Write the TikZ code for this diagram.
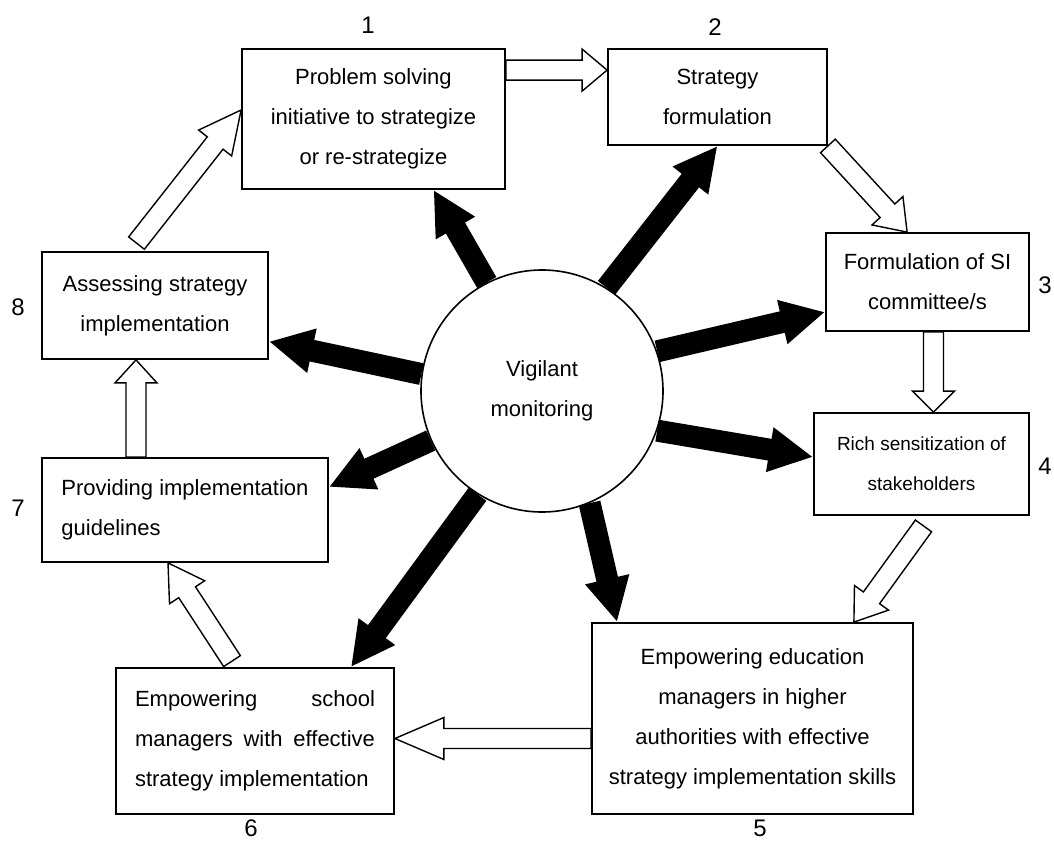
\documentclass[tikz,border=0pt]{standalone}
\usepackage{fontspec}
\setmainfont{Liberation Sans}
\usetikzlibrary{calc,arrows.meta}

\newcommand{\hollowarrow}[3]{%
	\coordinate (hb) at ($(#2)!#3!(#1)$);
	\draw[hollow] ($(#1)!5pt!90:(#2)$) -- ($(hb)!5pt!90:(#2)$)
		-- ($(hb)!10.5pt!90:(#2)$) -- (#2) -- ($(hb)!10.5pt!-90:(#2)$)
		-- ($(hb)!5pt!-90:(#2)$) -- ($(#1)!5pt!-90:(#2)$) -- cycle;
}

\begin{document}
\begin{tikzpicture}[x=0.5pt,y=-0.5pt,
	box/.style={draw, line width=0.9pt, inner sep=0pt, align=center,
		font=\fontsize{11}{20}\selectfont},
	num/.style={font=\fontsize{12}{14}\selectfont, inner sep=1pt},
	ray/.style={line width=11pt, -{Triangle[length=22pt,width=21pt]}},
	hollow/.style={line width=0.7pt, fill=white}]

		\useasboundingbox (0,0) rectangle (1054,841);

		\node[box,
			minimum width=131.5pt,
			minimum height=70pt
		] (b1) at (373.5,119) {Problem solving\\initiative to strategize\\or re-strategize};

		\node[box,
			minimum width=109.5pt,
			minimum height=48pt
		] (b2) at (717.5,97) {Strategy\\formulation};

		\node[box,
			minimum width=101.5pt,
			minimum height=49pt
		] (b3) at (927.5,282) {Formulation of SI\\committee/s};

		\node[box,
			minimum width=107.5pt,
			minimum height=51pt,
			font=\fontsize{9.5}{20}\selectfont
		] (b4) at (921.5,464) {Rich sensitization of\\stakeholders};

		\node[box,
			minimum width=160.5pt,
			minimum height=95.5pt
		] (b5) at (752.5,718.5) {Empowering education\\managers in higher\\authorities with effective\\strategy implementation skills};

		\node[box,
			minimum width=139pt,
			minimum height=73pt,
			align=left
		] (b6) at (255,741) {\makebox[120pt][s]{Empowering school}\\\makebox[120pt][s]{managers with effective}\\strategy implementation};

		\node[box,
			minimum width=143pt,
			minimum height=52pt,
			align=left
		] (b7) at (185,510) {Providing implementation\\guidelines};

		\node[box,
			minimum width=113pt,
			minimum height=53.5pt
		] (b8) at (155,305.5) {Assessing strategy\\implementation};

		\node[draw,
			circle,
			line width=0.8pt,
			minimum size=121pt,
			align=center,
			font=\fontsize{11}{20}\selectfont
		] (vm) at (542,391) {Vigilant\\monitoring};

		\node[num] (n1) at (368,25) {1};
		\node[num] (n2) at (715,27) {2};
		\node[num] (n3) at (1045,285) {3};
		\node[num] (n4) at (1045,466) {4};
		\node[num] (n5) at (760,828) {5};
		\node[num] (n6) at (251,828) {6};
		\node[num] (n7) at (18,508) {7};
		\node[num] (n8) at (18,307) {8};

		\draw[ray] (vm.117) -- ([xshift=30pt]b1.south);
		\draw[ray] (vm.58) -- (b2.south);
		\draw[ray] (vm.19) -- ([yshift=-15pt]b3.west);
		\draw[ray] (vm.-19) -- ([yshift=3.5pt]b4.west);
		\draw[ray] (vm.-67) -- ([xshift=13pt]b5.north west);
		\draw[ray] (vm.238) -- ([xshift=-22pt]b6.north east);
		\draw[ray] (vm.204) -- ([yshift=11.5pt]b7.east);
		\draw[ray] (vm.172) -- ([yshift=-18pt]b8.east);

		\coordinate (t12) at ([yshift=-11pt]b1.north east);
		\coordinate (h12) at ([yshift=-11pt]b2.north west);
		\coordinate (t23) at (b2.south east);
		\coordinate (h23) at ([xshift=41pt]b3.north west);
		\coordinate (t34) at ([xshift=3pt]b3.south);
		\coordinate (h34) at (t34 |- b4.north);
		\coordinate (t45) at ([xshift=1pt,yshift=-5pt]b4.south);
		\coordinate (h45) at ([xshift=-30pt]b5.north east);
		\coordinate (t56) at ([yshift=-10pt]b5.west);
		\coordinate (h56) at (b6.east |- t56);
		\coordinate (t67) at ([xshift=-11.5pt,yshift=3pt]b6.north);
		\coordinate (h67) at ([xshift=-8.5pt]b7.south);
		\coordinate (t78) at ([xshift=-24.5pt]b7.north);
		\coordinate (h78) at (t78 |- b8.south);
		\coordinate (t81) at ([xshift=-9.25pt,yshift=4pt]b8.north);
		\coordinate (h81) at ([yshift=4.5pt]b1.west);

		\hollowarrow{t12}{h12}{12.5pt}
		\hollowarrow{t23}{h23}{14.5pt}
		\hollowarrow{t34}{h34}{10.5pt}
		\hollowarrow{t45}{h45}{15pt}
		\hollowarrow{t56}{h56}{24.5pt}
		\hollowarrow{t67}{h67}{17.5pt}
		\hollowarrow{t78}{h78}{11.5pt}
		\hollowarrow{t81}{h81}{21pt}

	\end{tikzpicture}
\end{document}
